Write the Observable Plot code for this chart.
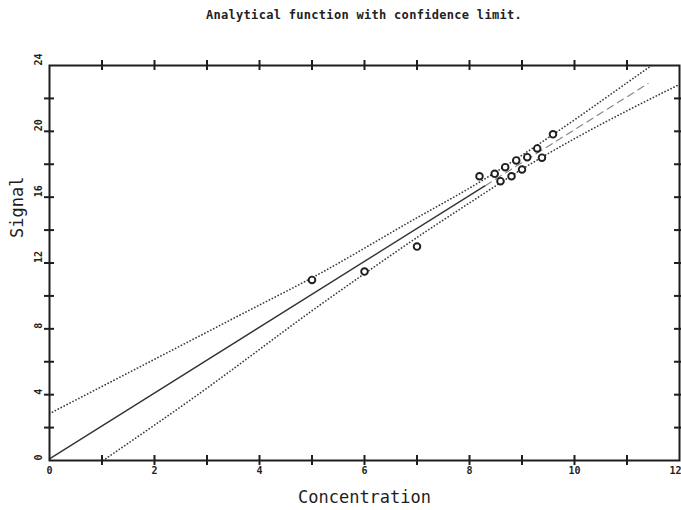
<!DOCTYPE html>
<html><head><meta charset="utf-8">
<script src="https://cdn.jsdelivr.net/npm/d3@7"></script>
<script src="https://cdn.jsdelivr.net/npm/@observablehq/plot@0.6"></script>
<style>
body{margin:0;background:#fff;}
#title{height:30px;padding-left:49px;padding-right:2px;text-align:center;font:bold 12px "DejaVu Sans Mono",monospace;line-height:30px;letter-spacing:0.3px;color:#222;}
</style></head><body>
<div id="title">Analytical function with confidence limit.</div>
<div id="chart"></div>
<script>
// measured samples
const concentration = [5.0, 6.0, 7.0, 8.19, 8.48, 8.59, 8.68, 8.80, 8.89, 9.00, 9.10, 9.29, 9.38, 9.59];
const signal        = [10.97, 11.48, 13.0, 17.27, 17.42, 16.97, 17.82, 17.27, 18.23, 17.68, 18.43, 18.96, 18.40, 19.82];

// regression line (solid part, then faint dashed continuation)
const fitSolidX = [0, 8.3];
const fitSolidY = [0.1, 16.7];
const fitDashX = [8.3, 11.4];
const fitDashY = [16.7, 22.9];

// upper confidence limit
const upperX = [0, 1, 2, 3, 4, 5, 6, 7, 8, 9, 10, 11, 11.47];
const upperY = [2.85, 4.5, 6.15, 7.8, 9.45, 11.1, 12.9, 14.75, 16.55, 18.55, 20.7, 22.95, 24];

// lower confidence limit
const lowerX = [1.02, 2, 3, 4, 5, 6, 7, 8, 9, 10, 11, 12];
const lowerY = [0, 2.15, 4.4, 6.75, 9.1, 11.35, 13.55, 15.65, 17.7, 19.55, 21.25, 22.85];

// axis ticks
const xTickMarks = [1, 2, 3, 4, 5, 6, 7, 8, 9, 10, 11];
const xTickLabels = [0, 2, 4, 6, 8, 10];
const xLastLabel = [12];
const yTickMarks = [2, 4, 6, 8, 10, 12, 14, 16, 18, 20, 22];
const yTickLabels = [0, 4, 8, 12, 16, 20, 24];

const pts = concentration.map((c, i) => ({x: c, y: signal[i]}));
const toXY = (xs, ys) => xs.map((v, i) => ({x: v, y: ys[i]}));
const upper = toXY(upperX, upperY);
const lower = toXY(lowerX, lowerY);
const fitSolid = toXY(fitSolidX, fitSolidY);
const fitDash = toXY(fitDashX, fitDashY);

const ink = "#1e1e1e";
const dotted = {x: "x", y: "y", stroke: "#3a3a3a", strokeWidth: 1.7, strokeDasharray: "0.1,3.2", strokeLinecap: "round", curve: "natural", clip: true};

const chart = Plot.plot({
  width: 681, height: 480,
  marginLeft: 49, marginRight: 2, marginTop: 35, marginBottom: 50,
  x: {domain: [0, 12], axis: null},
  y: {domain: [0, 24], axis: null},
  style: {fontFamily: "'DejaVu Sans Mono', monospace", color: ink, background: "#fff"},
  marks: [
    Plot.line(upper, dotted),
    Plot.line(lower, dotted),
    Plot.line(fitSolid, {x: "x", y: "y", stroke: "#333", strokeWidth: 1.4}),
    Plot.line(fitDash, {x: "x", y: "y", stroke: "#888", strokeWidth: 1.2, strokeDasharray: "7,5"}),
    Plot.dot(pts, {x: "x", y: "y", r: 3.3, stroke: ink, strokeWidth: 1.9, fill: "#fff"}),
    Plot.frame({stroke: ink, strokeWidth: 2}),
    Plot.ruleX(xTickMarks, {x: d => d, y1: 0, y2: 0, insetTop: -5, insetBottom: -5, stroke: ink, strokeWidth: 2}),
    Plot.ruleX(xTickMarks, {x: d => d, y1: 24, y2: 24, insetTop: -5, insetBottom: -5, stroke: ink, strokeWidth: 2}),
    Plot.ruleY(yTickMarks, {y: d => d, x1: 0, x2: 0, insetLeft: -5, insetRight: -5, stroke: ink, strokeWidth: 2}),
    Plot.ruleY(yTickMarks, {y: d => d, x1: 12, x2: 12, insetLeft: -5, insetRight: -5, stroke: ink, strokeWidth: 2}),
    Plot.text(xTickLabels, {x: d => d, frameAnchor: "bottom", dy: 13, text: d => String(d), fontSize: 10, fontWeight: "bold", fill: ink}),
    Plot.text(xLastLabel, {x: d => d, frameAnchor: "bottom", dy: 13, dx: 2, textAnchor: "end", text: d => String(d), fontSize: 10, fontWeight: "bold", fill: ink}),
    Plot.text(yTickLabels, {y: d => d, frameAnchor: "left", dx: -11, rotate: -90, text: d => String(d), fontSize: 10, fontWeight: "bold", fill: ink}),
    Plot.text(["Concentration"], {frameAnchor: "bottom", dy: 42, text: d => d, fontSize: 17, fill: ink}),
    Plot.text(["Signal"], {frameAnchor: "left", dx: -32, dy: -25, rotate: -90, text: d => d, fontSize: 17, fill: ink})
  ]
});
document.getElementById("chart").appendChild(chart);
</script>
</body></html>
